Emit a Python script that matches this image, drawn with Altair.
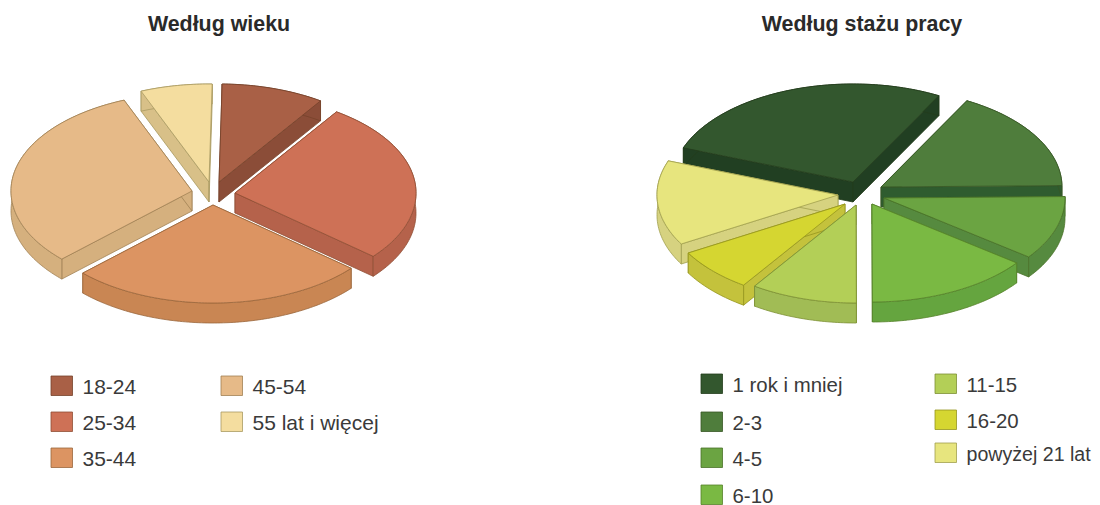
import math
import altair as alt

# ---- data (percent shares) ----
age_labels = ["18-24", "25-34", "35-44", "45-54", "55 lat i więcej"]
age_shares = [9.2, 26.7, 26.6, 31.1, 6.4]
age_tops = ["#A96046", "#CE7156", "#DC9462", "#E6BA88", "#F4DD9F"]
age_walls = ["#8B4D38", "#B5624B", "#C98653", "#D5B07E", "#D8C088"]

tenure_labels = ["1 rok i mniej", "2-3", "4-5", "6-10", "11-15", "16-20", "powyżej 21 lat"]
tenure_shares = [27.2, 16.9, 10.5, 14.7, 9.5, 7.2, 14.0]
tenure_tops = ["#33572E", "#4F7D3C", "#6BA442", "#7AB943", "#B3CF57", "#D5D631", "#E7E57E"]
tenure_walls = ["#213F22", "#2F5C2F", "#568A3F", "#65A53F", "#A1BC55", "#C4C23C", "#D6D280"]

# ---- layout ----
M = 8  # page margin
RX, RY, DEPTH = 181, 98, 20
age_start = 1.0
age_apex = [(219, 182), (235, 193), (213, 205), (192, 191), (209, 182)]
age_order = [4, 0, 3, 1, 2]
tenure_start = 290.4
tenure_apex = [(853, 182), (881, 187), (884, 198), (872, 204), (856, 205), (845, 204), (838, 195)]
tenure_order = [0, 1, 2, 6, 5, 4, 3]


def edge_colour(hex_colour):
    r, g, b = (int(hex_colour[i:i + 2], 16) for i in (1, 3, 5))
    return "#%02X%02X%02X" % (int(r * .7), int(g * .7), int(b * .62))


def feature(points, fill, stroke):
    ring = [[x - M, y - M] for x, y in points]
    ring.append(ring[0])
    return {"type": "Feature",
            "properties": {"fill": fill, "stroke": stroke},
            "geometry": {"type": "Polygon", "coordinates": [ring]}}


def pie(shares, start, apexes, tops, walls, order):
    total = sum(shares)
    angles = [start]
    for s in shares:
        angles.append(angles[-1] + 360 * s / total)
    out = []
    for i in order:
        ax, ay = apexes[i]
        n = max(6, int(angles[i + 1] - angles[i]))
        arc = []
        for k in range(n + 1):
            t = math.radians(angles[i] + (angles[i + 1] - angles[i]) * k / n)
            arc.append((ax + RX * math.sin(t), ay - RY * math.cos(t)))
        low = lambda p: (p[0], p[1] + DEPTH)
        st = edge_colour(tops[i])
        # radial walls first, outer wall next, top face last
        out.append(feature([(ax, ay), arc[0], low(arc[0]), (ax, ay + DEPTH)], walls[i], st))
        out.append(feature([(ax, ay), arc[-1], low(arc[-1]), (ax, ay + DEPTH)], walls[i], st))
        out.append(feature(arc + [low(p) for p in reversed(arc)], walls[i], st))
        out.append(feature([(ax, ay)] + arc, tops[i], st))
    return out


features = (pie(age_shares, age_start, age_apex, age_tops, age_walls, age_order)
            + pie(tenure_shares, tenure_start, tenure_apex, tenure_tops, tenure_walls, tenure_order))

pies = alt.Chart(
    alt.Data(values={"type": "FeatureCollection", "features": features},
             format=alt.DataFormat(property="features", type="json"))
).mark_geoshape(strokeWidth=0.8, strokeJoin="round").encode(
    fill=alt.Fill("properties.fill:N", scale=None),
    stroke=alt.Stroke("properties.stroke:N", scale=None),
).project(type="identity", scale=1, translate=[0, 0])

# ---- legends ----
age_slots = [(51, 376), (51, 412), (51, 448), (221, 376), (221, 412)]
tenure_slots = [(701, 374), (701, 412), (701, 448), (701, 485), (935, 374), (935, 410), (935, 443)]
age_sizes = [21] * 5
tenure_sizes = [20.4] * 6 + [19.6]  # the last label has to end inside the drawing area
rows = []
for labels, tops, slots, sizes in [(age_labels, age_tops, age_slots, age_sizes),
                                   (tenure_labels, tenure_tops, tenure_slots, tenure_sizes)]:
    for lab, col, (x, y), size in zip(labels, tops, slots, sizes):
        rows.append({"label": lab, "fill": col, "stroke": edge_colour(col), "size": size,
                     "x": x - M, "x2": x + 21.5 - M, "y": y - M, "y2": y + 19.5 - M,
                     "tx": x + 31.5 - M, "ty": y + 11.5 - M})
legend_data = alt.Data(values=rows)

swatches = alt.Chart(legend_data).mark_rect(strokeWidth=0.8).encode(
    x=alt.X("x:Q", scale=None, axis=None), x2="x2:Q",
    y=alt.Y("y:Q", scale=None, axis=None), y2="y2:Q",
    fill=alt.Fill("fill:N", scale=None),
    stroke=alt.Stroke("stroke:N", scale=None),
)
legend_text = alt.Chart(legend_data).mark_text(
    align="left", baseline="middle", font="Liberation Sans", color="#3A3A3A"
).encode(
    x=alt.X("tx:Q", scale=None, axis=None),
    y=alt.Y("ty:Q", scale=None, axis=None),
    size=alt.Size("size:Q", scale=None),
    text="label:N",
)

# ---- titles ----
title_rows = [
    {"t": "Według wieku", "x": 219 - M, "y": 25 - M},
    {"t": "Według stażu pracy", "x": 862 - M, "y": 25 - M},
]
titles = alt.Chart(alt.Data(values=title_rows)).mark_text(
    align="center", baseline="middle", font="Liberation Sans", fontWeight="bold",
    fontSize=21.4, color="#2A2A2A"
).encode(
    x=alt.X("x:Q", scale=None, axis=None),
    y=alt.Y("y:Q", scale=None, axis=None),
    text="t:N",
)

chart = alt.layer(pies, swatches, legend_text, titles).properties(
    width=1084, height=497, padding=0, autosize=alt.AutoSizeParams(type="none"),
    background="white",
).configure_view(stroke=None)

chart.save("out.html", embed_options={"renderer": "svg", "actions": False})
